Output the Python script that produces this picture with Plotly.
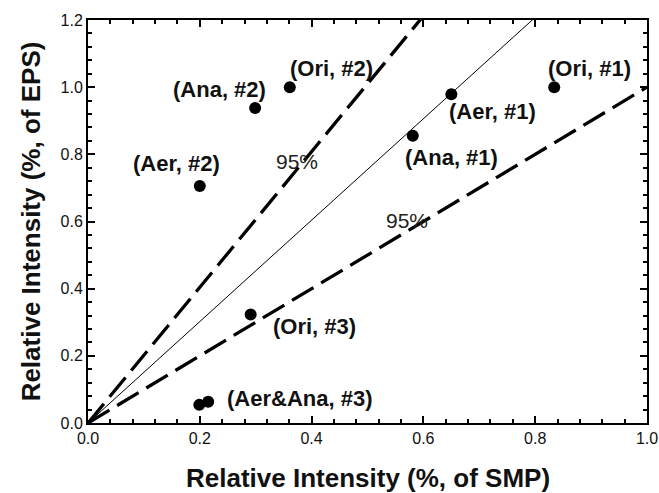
import plotly.graph_objects as go

# data
pt_x = [0.200, 0.299, 0.361, 0.650, 0.581, 0.834, 0.291, 0.199, 0.215]
pt_y = [0.706, 0.938, 1.000, 0.979, 0.855, 1.000, 0.323, 0.054, 0.063]

lab_text = ["(Aer, #2)", "(Ana, #2)", "(Ori, #2)", "(Aer, #1)", "(Ana, #1)",
            "(Ori, #1)", "(Ori, #3)", "(Aer&Ana, #3)"]
lab_x = [0.159, 0.236, 0.436, 0.723, 0.651, 0.897, 0.406, 0.379]
lab_y = [0.773, 0.993, 1.056, 0.927, 0.791, 1.056, 0.287, 0.0735]

fit_slope = 1.51
ci_slopes = [2.02, 1.00]
ci_text = ["95%", "95%"]
ci_lab_x = [0.373, 0.570]
ci_lab_y = [0.778, 0.604]

x_title = "Relative Intensity (%, of SMP)"
y_title = "Relative Intensity (%, of EPS)"

line_x = [0.0, 1.0]

fig = go.Figure()
fig.add_trace(go.Scatter(x=line_x, y=[fit_slope * v for v in line_x], mode="lines",
                         line=dict(color="black", width=1), showlegend=False))
for s in ci_slopes:
    fig.add_trace(go.Scatter(x=line_x, y=[s * v for v in line_x], mode="lines",
                             line=dict(color="black", width=3.3, dash="25px,9px"),
                             showlegend=False))
fig.add_trace(go.Scatter(x=pt_x, y=pt_y, mode="markers",
                         marker=dict(color="black", size=12), showlegend=False))

for t, x, y in zip(lab_text, lab_x, lab_y):
    fig.add_annotation(x=x, y=y, text="<b>" + t + "</b>", showarrow=False,
                       xanchor="center", yanchor="middle",
                       font=dict(size=22, color="#111"))
for t, x, y in zip(ci_text, ci_lab_x, ci_lab_y):
    fig.add_annotation(x=x, y=y, text=t, showarrow=False,
                       xanchor="center", yanchor="middle",
                       font=dict(size=21, color="#222"))

fig.add_annotation(xref="paper", yref="paper", x=0.5, y=-0.137,
                   text="<b>" + x_title + "</b>", showarrow=False,
                   xanchor="center", yanchor="middle",
                   font=dict(size=26, color="#111"))

axis_common = dict(showgrid=False, zeroline=False, showline=True, linecolor="black",
                   linewidth=2, mirror="ticks", ticks="inside", ticklen=7,
                   tickwidth=1.5, tickcolor="black", automargin=False,
                   tickfont=dict(size=16, color="#111"),
                   minor=dict(ticks="inside", ticklen=4, tickwidth=1.5,
                              tickcolor="black", dtick=0.04))

fig.update_xaxes(range=[0, 1.0], dtick=0.2, tickformat=".1f", **axis_common)
fig.update_yaxes(range=[0, 1.2], dtick=0.2, tickformat=".1f",
                 title=dict(text="<b>" + y_title + "</b>",
                            font=dict(size=26, color="#111"), standoff=12),
                 **axis_common)

fig.update_layout(width=659, height=493,
                  margin=dict(l=88, r=12, t=20, b=70),
                  paper_bgcolor="white", plot_bgcolor="white",
                  font=dict(family="Liberation Sans, Arial, sans-serif"))

fig.write_html("out.html")
